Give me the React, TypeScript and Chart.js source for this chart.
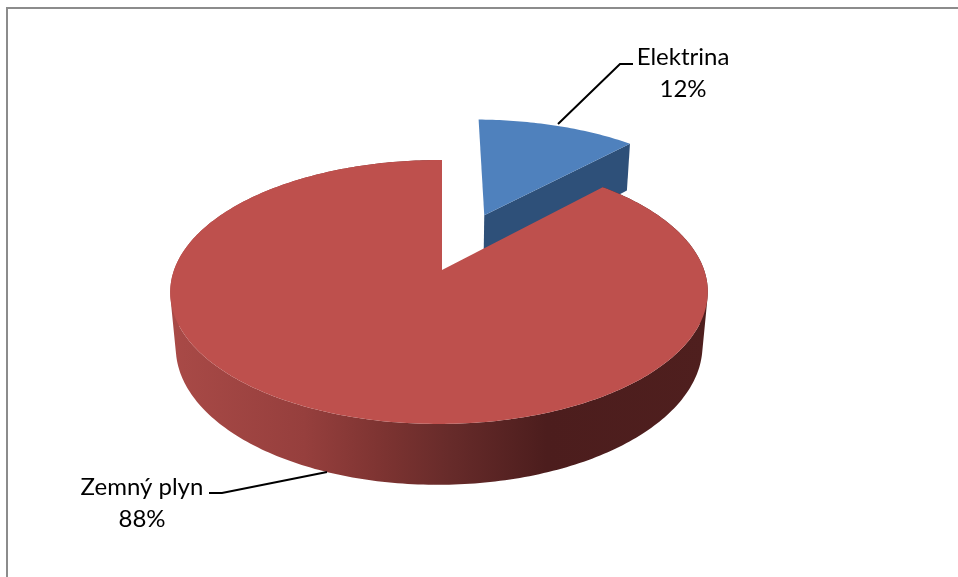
import React, { useEffect, useRef } from "react";
import { Chart, registerables } from "chart.js";

Chart.register(...registerables);

const categories = ["Elektrina", "Zemný plyn"];
const shares = [12, 88];
const topColors = ["#4f81bd", "#be504d"];
const wallColors = ["#2e5079", "#a94a47"];

// Camera used to tilt the pie: unit disc coordinates (u, v) and depth z to pixels.
const CENTER_X = 442;
const CENTER_Y = 270;
const SCALE_X = 265;
const SCALE_Y = 128.3;
const DEPTH_Y = 55;
const FORESHORTEN = 1 / 6;
const SKEW = 0.011;
const DEPTH_SHRINK = 0.02;
const EXPLODE_U = 0.172;
const EXPLODE_V = -0.46;

type Pt = [number, number];

const project = (u: number, v: number, z: number): Pt => {
  const w = 1 - FORESHORTEN * v + SKEW * u + DEPTH_SHRINK * z;
  return [CENTER_X + (SCALE_X * u) / w, CENTER_Y + (SCALE_Y * v + DEPTH_Y * z) / w];
};

const addPolygon = (ctx: CanvasRenderingContext2D, pts: Pt[]) => {
  pts.forEach(([x, y], i) => (i ? ctx.lineTo(x, y) : ctx.moveTo(x, y)));
  ctx.closePath();
};

const signedArea = (pts: Pt[]) =>
  pts.reduce((sum, [x, y], i) => {
    const [nx, ny] = pts[(i + 1) % pts.length];
    return sum + x * ny - nx * y;
  }, 0);

const arcPoints = (start: number, end: number, ox: number, oy: number, z: number) => {
  const steps = Math.max(8, Math.ceil((end - start) * 60));
  const pts: Pt[] = [];
  for (let i = 0; i <= steps; i++) {
    const a = start + ((end - start) * i) / steps;
    pts.push(project(ox + Math.cos(a), oy + Math.sin(a), z));
  }
  return pts;
};

const sideGradient = (ctx: CanvasRenderingContext2D) => {
  const g = ctx.createLinearGradient(170, 0, 708, 0);
  const stops: [number, string][] = [
    [0, "#a94a47"],
    [0.25, "#963f3d"],
    [0.4, "#7c3331"],
    [0.52, "#672b2a"],
    [0.7, "#4c1d1d"],
    [1, "#4f1f1e"],
  ];
  stops.forEach(([p, c]) => g.addColorStop(p, c));
  return g;
};

// Draws each slice as a tilted disc wedge, taking its angles from the pie controller.
const tiltedPie = {
  id: "tiltedPie",
  beforeDatasetDraw(chart: Chart) {
    const { ctx } = chart;
    const arcs = chart.getDatasetMeta(0).data as any[];
    ctx.save();
    arcs.forEach((arc, i) => {
      const { startAngle, endAngle } = arc;
      const isExploded = i === 0;
      const ox = isExploded ? EXPLODE_U : 0;
      const oy = isExploded ? EXPLODE_V : 0;

      if (isExploded) {
        // The cut face that looks toward the viewer.
        ctx.fillStyle = wallColors[i];
        ctx.beginPath();
        addPolygon(ctx, [
          project(ox, oy, 0),
          project(ox + Math.cos(endAngle), oy + Math.sin(endAngle), 0),
          project(ox + Math.cos(endAngle), oy + Math.sin(endAngle), 1),
          project(ox, oy, 1),
        ]);
        ctx.fill();
      } else {
        // The rim of the disc: a union of short bands wound the same way,
        // so the silhouette stays convex where the rim folds behind itself.
        const upper = arcPoints(startAngle, endAngle, ox, oy, 0);
        const lower = arcPoints(startAngle, endAngle, ox, oy, 1);
        ctx.fillStyle = sideGradient(ctx);
        ctx.beginPath();
        for (let s = 0; s < upper.length - 1; s++) {
          const band: Pt[] = [upper[s], upper[s + 1], lower[s + 1], lower[s]];
          addPolygon(ctx, signedArea(band) < 0 ? band.reverse() : band);
        }
        ctx.fill("nonzero");
      }

      ctx.fillStyle = topColors[i];
      ctx.beginPath();
      addPolygon(ctx, [project(ox, oy, 0), ...arcPoints(startAngle, endAngle, ox, oy, 0)]);
      ctx.fill();
    });
    ctx.restore();
    return false;
  },
};

// Frame edges plus the two labels with their leader lines.
const annotations = {
  id: "annotations",
  afterDraw(chart: Chart) {
    const { ctx } = chart;
    ctx.save();
    ctx.strokeStyle = "#8c8c8c";
    ctx.lineWidth = 2;
    ctx.beginPath();
    ctx.moveTo(7, 577);
    ctx.lineTo(7, 8);
    ctx.lineTo(958, 8);
    ctx.stroke();

    ctx.strokeStyle = "#000000";
    ctx.lineWidth = 2;
    ctx.beginPath();
    ctx.moveTo(558, 124);
    ctx.lineTo(620, 64);
    ctx.lineTo(633, 64);
    ctx.moveTo(327, 472);
    ctx.lineTo(222, 493);
    ctx.lineTo(209, 493);
    ctx.stroke();

    ctx.fillStyle = "#000000";
    ctx.font = "24px Lato";
    ctx.textAlign = "center";
    ctx.textBaseline = "alphabetic";
    ctx.fillText(categories[0], 683, 65);
    ctx.fillText(`${shares[0]}%`, 683, 97);
    ctx.fillText(categories[1], 142, 495);
    ctx.fillText(`${shares[1]}%`, 142, 527);
    ctx.restore();
  },
};

export default function App() {
  const ref = useRef<HTMLCanvasElement>(null);
  useEffect(() => {
    const chart = new Chart(ref.current!, {
      type: "pie",
      data: {
        labels: categories,
        datasets: [{ data: shares, backgroundColor: topColors, borderWidth: 0 }],
      },
      options: {
        responsive: false,
        animation: false,
        plugins: { legend: { display: false }, tooltip: { enabled: false } },
      },
      plugins: [tiltedPie, annotations],
    });
    return () => chart.destroy();
  }, []);
  return (
    <canvas
      ref={ref}
      width={958}
      height={577}
      style={{ position: "fixed", left: 0, top: 0, background: "#ffffff" }}
    />
  );
}
